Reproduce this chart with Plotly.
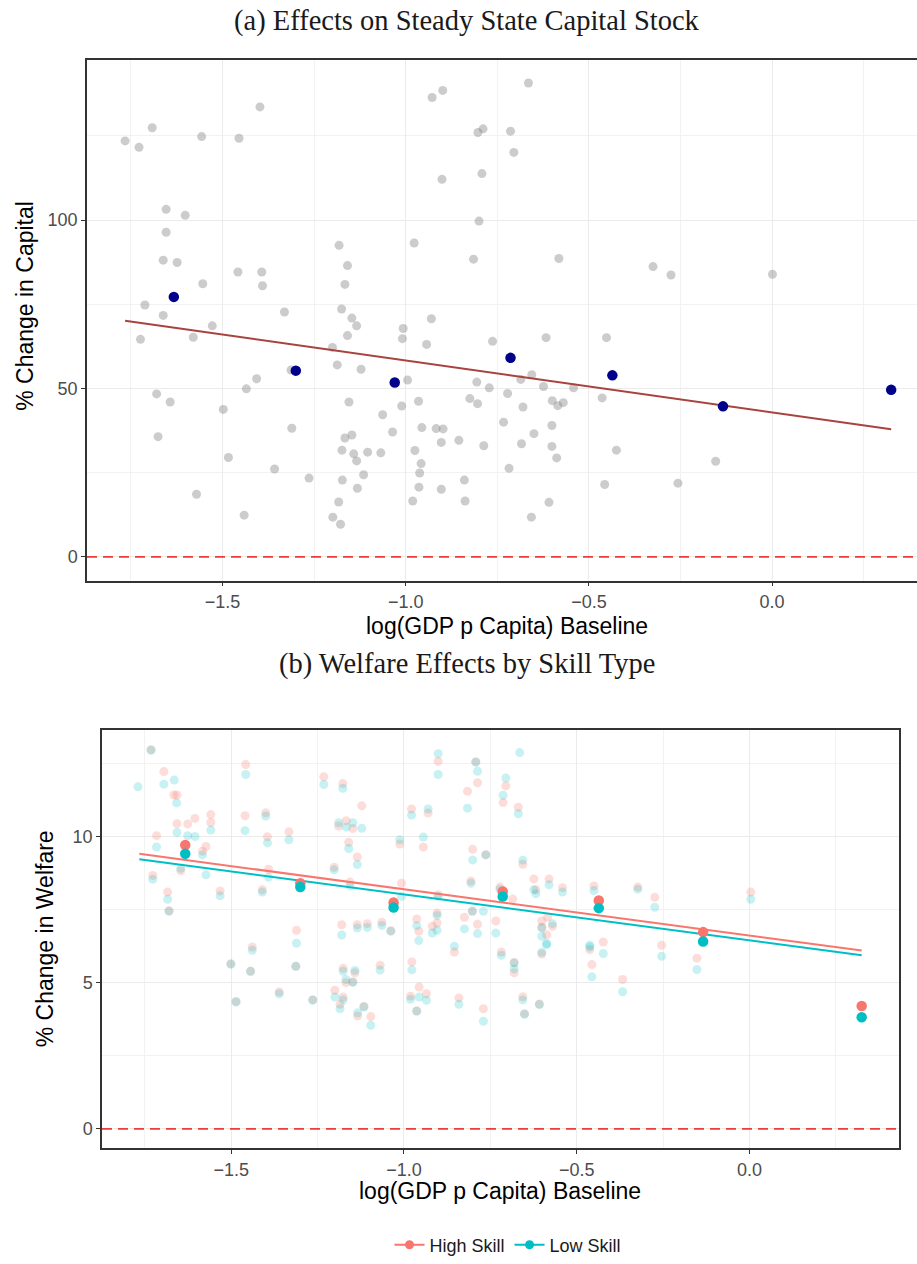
import plotly.graph_objects as go

# ---------------- Panel (a): capital stock ----------------
# country-level points: log GDP per capita (baseline) vs % change in capital
cap_x = [-1.766, -1.728, -1.692, -1.557, -1.455, -1.398, -0.928, -0.899, -0.803, -0.789,
         -0.901, -0.792, -0.800, -0.977, -0.815, -1.654, -1.602, -1.654, -1.662, -1.624,
         -1.554, -1.458, -1.393, -1.391, -1.182, -1.159, -1.166, -1.175, -1.147, -0.930,
         -1.712, -1.662, -1.331, -0.665, -0.714, -0.705, -0.582, -0.325, -0.276, 0.001,
         -1.134, -1.724, -1.580, -1.528, -1.159, -1.200, -1.007, -1.009, -0.943, -0.763,
         -1.187, -1.122, -1.313, -1.407, -1.435, -0.995, -1.680, -1.643, -1.498, -1.155,
         -1.011, -0.965, -0.806, -0.772, -0.825, -0.804, -1.063, -1.311, -1.676, -1.036,
         -0.956, -0.917, -0.898, -0.903, -0.855, -0.787, -1.166, -1.147, -1.174, -1.142,
         -1.134, -1.104, -1.068, -0.975, -0.958, -0.962, -0.964, -1.484, -1.358, -1.264,
         -1.173, -1.115, -1.132, -1.183, -1.199, -1.178, -1.571, -1.441, -0.981, -0.903,
         -0.840, -0.838, -0.617, -0.452, -0.722, -0.686, -0.656, -0.624, -0.680, -0.600,
         -0.585, -0.570, -0.542, -0.464, -0.733, -0.650, -0.601, -0.684, -0.601, -0.588,
         -0.718, -0.425, -0.154, -0.457, -0.257, -0.609, -0.657]
cap_y = [123.5, 121.6, 127.4, 124.8, 124.3, 133.6, 136.4, 138.5, 126.0, 127.1,
         112.1, 113.8, 99.7, 93.2, 88.4, 103.2, 101.4, 96.4, 88.1, 87.4,
         81.1, 84.6, 84.6, 80.5, 92.5, 86.5, 80.9, 73.6, 70.9, 70.7,
         74.8, 71.7, 72.7, 140.7, 126.4, 120.1, 88.6, 86.2, 83.7, 83.9,
         68.6, 64.6, 65.2, 68.6, 65.7, 62.2, 67.8, 64.8, 63.1, 64.0,
         57.0, 55.7, 55.5, 52.9, 49.9, 52.5, 48.4, 46.0, 43.8, 46.0,
         44.8, 46.2, 51.9, 50.2, 47.0, 45.5, 42.2, 38.2, 35.7, 37.1,
         38.4, 38.1, 38.0, 34.0, 34.6, 33.0, 35.3, 36.2, 31.7, 30.6,
         28.5, 31.1, 30.9, 31.6, 27.7, 24.9, 20.7, 29.5, 26.1, 23.4,
         22.8, 24.4, 20.4, 16.3, 11.8, 9.7, 18.6, 12.4, 16.6, 20.1,
         22.8, 16.6, 65.1, 65.1, 48.5, 52.7, 54.1, 50.6, 44.5, 46.4,
         44.9, 45.8, 50.2, 47.2, 40.0, 36.6, 39.0, 33.6, 32.8, 29.4,
         26.3, 31.7, 28.4, 21.5, 21.9, 16.2, 11.8]

# group averages (highlighted points)
grp_x = [-1.633, -1.300, -1.030, -0.714, -0.436, -0.134, 0.325]
grp_cap = [77.2, 55.3, 51.8, 59.1, 53.9, 44.7, 49.6]

# linear fit across countries
fit_x = [-1.766, 0.325]
fit_cap = [70.1, 37.9]

# ---------------- Panel (b): welfare by skill type ----------------
hi_x = [-1.732, -1.695, -1.666, -1.657, -1.657, -1.626, -1.605, -1.716, -1.727, -1.684,
        -1.680, -1.646, -1.583, -1.573, -1.559, -1.559, -1.532, -1.458, -1.460, -1.400,
        -1.395, -1.392, -1.410, -1.333, -1.311, -1.439, -1.232, -1.177, -1.122, -1.189,
        -1.167, -1.148, -1.160, -1.135, -1.202, -1.156, -1.180, -1.135, -1.106, -1.064,
        -1.038, -1.012, -1.007, -0.978, -0.930, -0.944, -0.963, -0.957, -0.901, -0.901,
        -0.918, -0.904, -0.904, -0.816, -0.792, -0.787, -0.801, -0.763, -0.806, -0.802,
        -0.825, -0.787, -0.734, -0.713, -0.705, -0.669, -0.656, -0.722, -0.685, -0.624,
        -0.580, -0.618, -0.541, -0.450, -0.323, -0.274, 0.004, -0.601, -0.601, -0.584,
        -0.570, -0.587, -0.423, -0.254, -1.501, -1.444, -1.486, -1.361, -1.264, -1.313,
        -1.176, -1.168, -1.148, -1.142, -1.200, -1.176, -1.185, -1.134, -1.116, -1.096,
        -1.069, -0.977, -0.981, -0.956, -0.935, -0.963, -0.854, -0.841, -0.770, -0.718,
        -0.681, -0.681, -0.656, -0.651, -0.608, -0.601, -0.462, -0.456, -0.367, -0.152]
hi_y = [12.97, 12.22, 11.42, 11.42, 10.44, 10.43, 10.62, 10.03, 8.67, 8.10,
        7.46, 8.83, 9.50, 9.66, 10.75, 10.48, 8.14, 12.46, 10.71, 10.81,
        9.99, 8.88, 8.18, 10.16, 6.79, 6.22, 12.04, 11.81, 11.05, 10.36,
        10.54, 10.27, 9.80, 9.30, 8.95, 8.44, 6.98, 6.98, 7.02, 7.07,
        6.78, 9.74, 8.40, 10.94, 10.80, 9.64, 7.18, 6.76, 12.57, 8.01,
        6.93, 7.38, 7.04, 11.55, 12.56, 11.84, 9.56, 9.38, 8.48, 7.45,
        7.24, 7.00, 7.11, 11.16, 11.73, 11.00, 9.05, 8.27, 7.86, 8.55,
        8.55, 8.18, 8.25, 8.31, 8.27, 7.92, 8.10, 7.11, 6.90, 7.24,
        6.93, 6.64, 6.39, 6.28, 5.65, 5.40, 4.36, 4.68, 4.42, 5.56,
        5.49, 5.00, 5.03, 5.34, 4.74, 4.51, 4.26, 3.86, 4.19, 3.84,
        5.60, 5.71, 4.54, 4.85, 4.62, 4.04, 6.05, 4.48, 4.11, 6.05,
        5.34, 5.69, 4.52, 3.94, 4.27, 5.98, 6.13, 5.62, 5.11, 5.84]

lo_x = [-1.770, -1.732, -1.695, -1.665, -1.658, -1.657, -1.626, -1.605, -1.716, -1.727,
        -1.684, -1.680, -1.646, -1.583, -1.573, -1.559, -1.532, -1.458, -1.460, -1.400,
        -1.395, -1.392, -1.410, -1.333, -1.311, -1.439, -1.232, -1.177, -1.122, -1.189,
        -1.167, -1.148, -1.160, -1.135, -1.202, -1.156, -1.180, -1.135, -1.106, -1.064,
        -1.038, -1.012, -1.007, -0.978, -0.930, -0.944, -0.963, -0.957, -0.901, -0.901,
        -0.901, -0.918, -0.904, -0.904, -0.816, -0.792, -0.787, -0.801, -0.763, -0.806,
        -0.802, -0.770, -0.825, -0.787, -0.734, -0.713, -0.705, -0.665, -0.669, -0.656,
        -0.722, -0.624, -0.580, -0.618, -0.541, -0.450, -0.323, -0.274, 0.004, -0.601,
        -0.601, -0.570, -0.587, -0.462, -1.501, -1.444, -1.486, -1.361, -1.264, -1.313,
        -1.176, -1.168, -1.148, -1.142, -1.200, -1.176, -1.185, -1.134, -1.116, -1.096,
        -1.069, -0.977, -0.981, -0.956, -0.935, -0.963, -0.854, -0.841, -0.770, -0.718,
        -0.681, -0.681, -0.656, -0.651, -0.608, -0.601, -0.587, -0.462, -0.423, -0.456,
        -0.367, -0.254, -0.152]
lo_y = [11.70, 12.95, 11.79, 11.93, 11.15, 10.14, 10.03, 10.00, 9.64, 8.54,
        7.85, 7.44, 8.91, 9.37, 8.69, 10.22, 7.97, 12.12, 10.20, 10.70,
        9.78, 8.61, 8.10, 9.89, 6.35, 6.11, 11.78, 11.65, 10.28, 10.47,
        10.32, 10.47, 9.59, 9.04, 8.86, 8.31, 6.63, 6.87, 6.89, 6.96,
        6.76, 9.89, 7.95, 10.73, 10.94, 9.98, 6.95, 6.44, 12.83, 12.12,
        7.95, 6.70, 7.30, 6.79, 10.97, 12.54, 12.23, 9.20, 9.37, 8.40,
        7.44, 7.44, 6.84, 6.68, 6.70, 11.41, 12.00, 12.87, 10.78, 9.19,
        8.20, 8.18, 8.35, 8.04, 8.10, 8.15, 8.20, 7.58, 7.85, 6.59,
        6.88, 7.02, 6.34, 6.28, 5.63, 5.38, 4.34, 4.62, 4.40, 5.56,
        5.39, 5.11, 5.01, 5.42, 4.51, 4.41, 4.11, 3.97, 4.17, 3.54,
        5.43, 5.44, 4.43, 4.51, 4.40, 4.02, 6.25, 4.26, 3.68, 5.94,
        5.47, 5.67, 4.41, 3.92, 4.25, 6.04, 6.30, 6.22, 6.00, 5.20,
        4.69, 5.90, 5.45]

# group averages by skill type
grp_hi = [9.71, 8.40, 7.74, 8.12, 7.81, 6.73, 4.20]
grp_lo = [9.41, 8.27, 7.57, 7.95, 7.55, 6.41, 3.82]

# linear fits by skill type
fit_hi = [9.41, 6.10]
fit_lo = [9.22, 5.94]

x_ticks = [-1.5, -1.0, -0.5, 0.0]
x_ticktext = ["\u22121.5", "\u22121.0", "\u22120.5", "0.0"]
x_minor = [-1.75, -1.25, -0.75, -0.25, 0.25]

HI_COL = "#F8766D"
LO_COL = "#00BFC4"
SANS = "Liberation Sans, Arial, sans-serif"
SERIF = "Liberation Serif, Times New Roman, serif"
W, H = 917, 1264

fig = go.Figure()

# panel (a)
fig.add_trace(go.Scatter(x=cap_x, y=cap_y, mode="markers", xaxis="x", yaxis="y",
                         marker=dict(size=9, color="rgba(127,127,127,0.4)", line=dict(width=0)),
                         showlegend=False, hoverinfo="skip"))
fig.add_trace(go.Scatter(x=fit_x, y=fit_cap, mode="lines", xaxis="x", yaxis="y",
                         line=dict(color="#A8433E", width=2), showlegend=False))
fig.add_trace(go.Scatter(x=grp_x, y=grp_cap, mode="markers", xaxis="x", yaxis="y",
                         marker=dict(size=10.5, color="#00008B", line=dict(width=0)),
                         showlegend=False))

# panel (b)
fig.add_trace(go.Scatter(x=hi_x, y=hi_y, mode="markers", xaxis="x2", yaxis="y2",
                         marker=dict(size=9, color="rgba(248,118,109,0.25)", line=dict(width=0)),
                         showlegend=False, hoverinfo="skip"))
fig.add_trace(go.Scatter(x=lo_x, y=lo_y, mode="markers", xaxis="x2", yaxis="y2",
                         marker=dict(size=9, color="rgba(0,191,196,0.22)", line=dict(width=0)),
                         showlegend=False, hoverinfo="skip"))
fig.add_trace(go.Scatter(x=fit_x, y=fit_hi, mode="lines", xaxis="x2", yaxis="y2",
                         line=dict(color=HI_COL, width=2), showlegend=False))
fig.add_trace(go.Scatter(x=fit_x, y=fit_lo, mode="lines", xaxis="x2", yaxis="y2",
                         line=dict(color=LO_COL, width=2), showlegend=False))
fig.add_trace(go.Scatter(x=grp_x, y=grp_hi, mode="markers", xaxis="x2", yaxis="y2",
                         marker=dict(size=10.5, color=HI_COL, line=dict(width=0)),
                         showlegend=False))
fig.add_trace(go.Scatter(x=grp_x, y=grp_lo, mode="markers", xaxis="x2", yaxis="y2",
                         marker=dict(size=10.5, color=LO_COL, line=dict(width=0)),
                         showlegend=False))

# legend keys
fig.add_trace(go.Scatter(x=[None], y=[None], mode="lines+markers", name="High Skill",
                         xaxis="x2", yaxis="y2",
                         line=dict(color=HI_COL, width=2), marker=dict(size=9, color=HI_COL)))
fig.add_trace(go.Scatter(x=[None], y=[None], mode="lines+markers", name="Low Skill",
                         xaxis="x2", yaxis="y2",
                         line=dict(color=LO_COL, width=2), marker=dict(size=9, color=LO_COL)))

GRID = "#EBEBEB"
MINOR_GRID = "#F2F2F2"
BORDER = "#333333"


def px_x(p):
    return p / W


def px_y(p):
    return 1 - p / H


common_x = dict(
    tickmode="array", tickvals=x_ticks, ticktext=x_ticktext,
    showgrid=True, gridcolor=GRID, gridwidth=1.4,
    minor=dict(tickmode="array", tickvals=x_minor, showgrid=True,
               gridcolor=MINOR_GRID, gridwidth=0.8, ticks=""),
    zeroline=False, showline=True, linecolor=BORDER, linewidth=1.5,
    ticks="outside", ticklen=4, tickwidth=1, tickcolor=BORDER,
    tickfont=dict(family=SANS, size=18, color="#4D4D4D"),
)
common_y = dict(
    showgrid=True, gridcolor=GRID, gridwidth=1.4,
    zeroline=False, showline=True, linecolor=BORDER, linewidth=1.5,
    ticks="outside", ticklen=4, tickwidth=1, tickcolor=BORDER,
    tickfont=dict(family=SANS, size=18, color="#4D4D4D"),
)

fig.update_layout(
    width=W, height=H,
    margin=dict(l=0, r=0, t=0, b=0),
    paper_bgcolor="white", plot_bgcolor="white",
    xaxis=dict(domain=[px_x(87), 1.0], range=[-1.870, 0.3955], anchor="y",
               mirror=True, **common_x),
    yaxis=dict(domain=[px_y(583), px_y(60)], range=[-7.06, 147.6], anchor="x",
               tickmode="array", tickvals=[0, 50, 100], mirror=False,
               minor=dict(tickmode="array", tickvals=[25, 75, 125], showgrid=True,
                          gridcolor=MINOR_GRID, gridwidth=0.8, ticks=""),
               **common_y),
    xaxis2=dict(domain=[px_x(102), px_x(899)], range=[-1.874, 0.433], anchor="y2",
                mirror=True, **common_x),
    yaxis2=dict(domain=[px_y(1153), px_y(733)], range=[-0.67, 13.64], anchor="x2",
                tickmode="array", tickvals=[0, 5, 10], mirror=True,
                minor=dict(tickmode="array", tickvals=[2.5, 7.5, 12.5], showgrid=True,
                           gridcolor=MINOR_GRID, gridwidth=0.8, ticks=""),
                **common_y),
    showlegend=True,
    legend=dict(orientation="h", x=px_x(508), xanchor="center", y=px_y(1250), yanchor="middle",
                font=dict(family=SANS, size=18, color="#1A1A1A"),
                bgcolor="rgba(0,0,0,0)", itemwidth=30),
    shapes=[
        dict(type="line", xref="x domain", yref="y", x0=0, x1=1, y0=0, y1=0,
             line=dict(color="#EE3B3B", width=1.6, dash="10px,6px")),
        dict(type="line", xref="x2 domain", yref="y2", x0=0, x1=1, y0=0, y1=0,
             line=dict(color="#EE3B3B", width=1.6, dash="10px,6px")),
    ],
)

ann = [
    ("(a) Effects on Steady State Capital Stock", 467, 21, SERIF, 28.5, 0, "#1A1A1A"),
    ("(b) Welfare Effects by Skill Type", 467, 667, SERIF, 28.5, 0, "#1A1A1A"),
    ("log(GDP p Capita) Baseline", 507, 628, SANS, 23, 0, "#000000"),
    ("log(GDP p Capita) Baseline", 500, 1196, SANS, 23, 0, "#000000"),
    ("% Change in Capital", 25, 307, SANS, 23, -90, "#000000"),
    ("% Change in Welfare", 45, 943, SANS, 23, -90, "#000000"),
]
for text, cx, cy, fam, size, ang, col in ann:
    fig.add_annotation(text=text, xref="paper", yref="paper", x=px_x(cx), y=px_y(cy),
                       xanchor="center", yanchor="middle", showarrow=False, textangle=ang,
                       font=dict(family=fam, size=size, color=col))

fig.write_html("out.html")
